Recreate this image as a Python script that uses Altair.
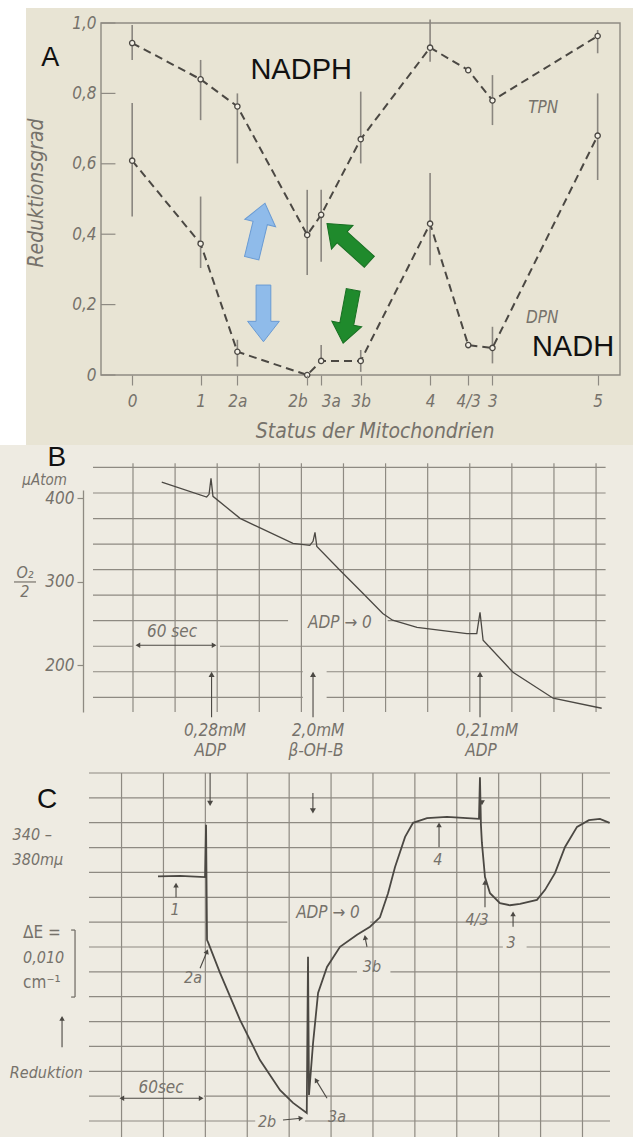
import altair as alt
import pandas as pd

W, H = 633, 1137
FONT = "Liberation Sans Narrow, DejaVu Sans Condensed, DejaVu Sans, sans-serif"
BFONT = "Liberation Sans, Arial, DejaVu Sans, sans-serif"
INK = "#4b4843"
GRID = "#8e8a82"
TXT = "#76726b"
PAPER_A = "#e8e4d4"
PAPER_BC = "#eeebe2"

# panel frames: (data domain, pixel range)
A_X = ([-6.7, 104.8], [101, 620])
A_Y = ([0.0, 1.0], [375, 23])
B_X = ([-28.5, 336.8], [93, 605.6])
B_Y = ([144.0, 410.0], [712, 490])
C_X = ([-23.3, 349.7], [89, 610])
C_Y = ([0.0, 51.94], [1121, 773])

# ---------------- Panel A data ----------------
status_labels = ["0", "1", "2a", "2b", "3a", "3b", "4", "4/3", "3", "5"]
status_pos = [0, 14.7, 22.6, 37.6, 40.6, 49.1, 64.0, 72.2, 77.4, 100]
tpn = [0.943, 0.84, 0.763, 0.398, 0.455, 0.67, 0.93, 0.866, 0.78, 0.963]
tpn_lo = [0.895, 0.724, 0.601, 0.284, 0.322, 0.601, 0.89, None, 0.71, 0.914]
tpn_hi = [0.994, 0.895, 0.80, 0.526, 0.526, 0.805, 1.01, None, 0.852, 0.98]
dpn = [0.609, 0.373, 0.066, 0.0, 0.04, 0.04, 0.43, 0.085, 0.077, 0.68]
dpn_lo = [0.45, 0.304, 0.024, None, 0.038, 0.009, 0.312, None, 0.033, 0.554]
dpn_hi = [0.773, 0.507, 0.10, None, 0.085, 0.071, 0.574, None, 0.137, 0.80]
y_ticks_A = [0, 0.2, 0.4, 0.6, 0.8, 1.0]

# annotation arrows in panel A (centre x, centre y, angle, length)
blue_x = [27.1, 28.2]
blue_y = [0.41, 0.175]
blue_ang = [13.6, 180]
blue_len = [56.6, 56.7]
green_x = [46.4, 46.4]
green_y = [0.376, 0.166]
green_ang = [312.2, 190.7]
green_len = [57.2, 54.2]

# ---------------- Panel B data (O2 trace) ----------------
b_t = [20.5, 52.5, 54.2, 55.6, 57, 76.3, 114, 126, 128.3, 129.7, 131, 147.5, 164, 178,
       185, 202.4, 238, 245, 247.3, 249.5, 270.8, 299.4, 334]
b_o2 = [419.5, 401.6, 404.8, 424, 402.4, 376, 346, 343.7, 348.5, 359.3, 342.5, 313.8, 286,
        262, 254, 245.5, 238, 238, 263.5, 230, 191.6, 160.5, 148.5]
b_ticks = [200, 300, 400]
b_vgrid = [0, 30, 60, 90, 120, 150, 180, 210, 240, 270, 300, 330]
b_rows_y = [437, 406.4, 375.8, 345.2, 314.6, 284, 253.4, 253.4, 222.8, 222.8,
            192.2, 192.2, 161.6, 161.6]
b_rows_x1 = [-28.5, -28.5, -28.5, -28.5, -28.5, -28.5, -28.5, 181.5, -28.5, 62,
             -28.5, 138, -28.5, 138]
b_rows_x2 = [336.8, 336.8, 336.8, 336.8, 336.8, 336.8, 110.5, 336.8, 0, 336.8,
             121, 336.8, 121, 336.8]
b_add_t = [56, 128.3, 247.3]

# ---------------- Panel C data (extinction trace, dE x 1000) ----------------
c_t = [26.1, 41.9, 59.8, 60.5, 61.2, 61.9, 70.5, 84.8, 99.1, 113.5, 122.8, 132.6, 133.5,
       134.2, 137.1, 140.7, 147.1, 156.4, 168.6, 177.9, 185, 190.8, 195.8, 203, 208.7,
       218.7, 233, 247.3, 255.9, 256.6, 257.3, 258, 260.2, 263.8, 270.9, 278.1, 285.3,
       297.4, 303.2, 310.3, 317.5, 326.1, 334.6, 342.5, 349.4]
c_v = [36.5, 36.6, 36.4, 44.2, 27.0, 26.7, 22.1, 15.1, 9.1, 4.6, 2.7, 1.2, 24.5,
       3.9, 11.6, 19.1, 23.0, 26.0, 27.8, 29.0, 30.4, 34.0, 37.9, 42.4, 44.5,
       45.2, 45.4, 45.2, 45.1, 51.3, 44.2, 41.5, 36.4, 34.0, 32.5, 32.2, 32.4,
       33.0, 34.5, 37.0, 40.9, 43.9, 44.9, 45.1, 44.5]
c_vgrid = [0, 30, 60, 90, 120, 150, 180, 210, 240, 270, 300, 330]
c_rows_y = [0, 0, 3.71, 3.71, 7.42, 11.13, 14.84, 18.55, 22.26, 22.26, 25.97, 25.97,
            29.68, 29.68, 33.39, 37.10, 40.81, 44.52, 48.23, 51.94]
c_rows_x1 = [-23.3, 131.4, -23.3, 59, -23.3, -23.3, -23.3, -23.3, -23.3, 192.5, -23.3, 290,
             -23.3, 178, -23.3, -23.3, -23.3, -23.3, -23.3, -23.3]
c_rows_x2 = [95.7, 349.7, -1, 349.7, 349.7, 349.7, 349.7, 349.7, 168.6, 349.7, 273, 349.7,
             118.7, 349.7, 349.7, 349.7, 349.7, 349.7, 349.7, 349.7]


def sc(P):
    return alt.Scale(domain=P[0], range=P[1], nice=False, zero=False)


def xe(field, P, axis=None):
    return alt.X(f"{field}:Q", scale=sc(P), axis=axis)


def ye(field, P, axis=None):
    return alt.Y(f"{field}:Q", scale=sc(P), axis=axis)


def texts(labels, xs, ys, PX, PY, size, color=TXT, style="italic", font=FONT,
          align="center", angle=0):
    df = pd.DataFrame({"label": labels, "x": xs, "y": ys})
    return alt.Chart(df).mark_text(
        fontSize=size, color=color, fontStyle=style, font=font, align=align,
        baseline="middle", angle=angle
    ).encode(x=xe("x", PX), y=ye("y", PY), text="label:N")


def segs(x1, x2, y1, y2, PX, PY, color=GRID, width=1.2):
    df = pd.DataFrame({"x": x1, "x2": x2, "y": y1, "y2": y2})
    return alt.Chart(df).mark_rule(color=color, strokeWidth=width).encode(
        x=xe("x", PX), x2="x2:Q", y=ye("y", PY), y2="y2:Q")


def heads(xs, ys, angs, PX, PY, color=INK, size=36):
    df = pd.DataFrame({"x": xs, "y": ys, "a": angs})
    return alt.Chart(df).mark_point(
        shape="triangle-up", filled=True, color=color, size=size, opacity=1
    ).encode(x=xe("x", PX), y=ye("y", PY), angle=alt.Angle("a:Q", scale=None))


def errbars(pos, lo, hi):
    rows = [(p, l, h) for p, l, h in zip(pos, lo, hi) if l is not None]
    return pd.DataFrame(rows, columns=["x", "lo", "hi"])


layers = []

# paper backgrounds
one = pd.DataFrame({"k": [0]})
layers.append(alt.Chart(one).mark_rect(color=PAPER_A).encode(
    x=alt.value(26), x2=alt.value(W), y=alt.value(8), y2=alt.value(445)))
layers.append(alt.Chart(one).mark_rect(color="#ffffff").encode(
    x=alt.value(0), x2=alt.value(26), y=alt.value(0), y2=alt.value(445)))
layers.append(alt.Chart(one).mark_rect(color="#ffffff").encode(
    x=alt.value(0), x2=alt.value(W), y=alt.value(0), y2=alt.value(8)))

# ================= Panel A =================
frame = pd.DataFrame({"x": [A_X[0][0]], "x2": [A_X[0][1]], "y": [A_Y[0][0]], "y2": [A_Y[0][1]]})
layers.append(alt.Chart(frame).mark_rect(fillOpacity=0, stroke=GRID, strokeWidth=1.4).encode(
    x=xe("x", A_X), x2="x2:Q", y=ye("y", A_Y), y2="y2:Q"))

dfA = pd.DataFrame({"pos": status_pos, "tpn": tpn, "dpn": dpn})
lab_expr = " : ".join(f"datum.value == {p} ? '{l}'" for p, l in zip(status_pos, status_labels)) + " : ''"
# "2b" and "3a" sit side by side: push them apart by aligning them right / left
x_label_align = {
    "condition": [
        {"test": f"datum.value == {status_pos[3]}", "value": "right"},
        {"test": f"datum.value == {status_pos[4]}", "value": "left"},
    ],
    "value": "center",
}
axA_x = alt.Axis(orient="bottom", offset=-(H - 375), values=status_pos, labelExpr=lab_expr,
                 domain=False, ticks=True, tickSize=10, tickColor=GRID, tickWidth=1.2,
                 labelPadding=8, labelFont=FONT, labelFontStyle="italic", labelFontSize=17,
                 labelColor=TXT, labelOverlap=False, labelAlign=x_label_align, grid=False,
                 title=None, zindex=2)
axA_y = alt.Axis(orient="left", offset=-101, values=y_ticks_A,
                 labelExpr="datum.value == 0 ? '0' : replace(format(datum.value, '.1f'), '.', ',')",
                 domain=False, ticks=False, labelPadding=5, labelFont=FONT,
                 labelFontStyle="italic", labelFontSize=17, labelColor=TXT, grid=False,
                 title=None, zindex=2)
# inward tick marks of the y axis
layers.append(segs([A_X[0][0]] * 6, [-3.6] * 6, y_ticks_A, y_ticks_A, A_X, A_Y, GRID, 1.2))

for lo, hi in [(tpn_lo, tpn_hi), (dpn_lo, dpn_hi)]:
    layers.append(alt.Chart(errbars(status_pos, lo, hi)).mark_rule(color="#8a867f", strokeWidth=1.6).encode(
        x=xe("x", A_X), y=ye("lo", A_Y), y2="hi:Q"))

layers.append(alt.Chart(dfA).mark_line(color=INK, strokeWidth=2, strokeDash=[8, 5]).encode(
    x=xe("pos", A_X, axA_x), y=ye("tpn", A_Y, axA_y)))
layers.append(alt.Chart(dfA).mark_line(color=INK, strokeWidth=2, strokeDash=[8, 5]).encode(
    x=xe("pos", A_X), y=ye("dpn", A_Y)))
for col in ["tpn", "dpn"]:
    layers.append(alt.Chart(dfA).mark_point(filled=True, fill="#f3f0e6", stroke=INK,
                                            strokeWidth=1.3, size=28, opacity=1).encode(
        x=xe("pos", A_X), y=ye(col, A_Y)))

ARROW = "M -0.26 1 L -0.26 -0.28 L -0.56 -0.28 L 0 -1 L 0.56 -0.28 L 0.26 -0.28 L 0.26 1 Z"
for xs, ys, an, ln, fill, stroke in [(blue_x, blue_y, blue_ang, blue_len, "#8fbbea", "#6a9bd3"),
                                     (green_x, green_y, green_ang, green_len, "#1f8a2c", "#186f22")]:
    dfa = pd.DataFrame({"x": xs, "y": ys, "a": an, "s": [l * l for l in ln]})
    layers.append(alt.Chart(dfa).mark_point(shape=ARROW, filled=True, fill=fill, stroke=stroke,
                                            strokeWidth=1, opacity=1).encode(
        x=xe("x", A_X), y=ye("y", A_Y), angle=alt.Angle("a:Q", scale=None),
        size=alt.Size("s:Q", scale=None)))

layers.append(texts(["A"], [-17.6], [0.90], A_X, A_Y, 27, "#111111", "normal", BFONT))
layers.append(texts(["NADPH", "NADH"], [36.3, 94.7], [0.866, 0.08], A_X, A_Y, 29, "#111111", "normal", BFONT))
layers.append(texts(["TPN", "DPN"], [88.3, 88.1], [0.758, 0.162], A_X, A_Y, 17))
layers.append(texts(["Reduktionsgrad"], [-20.4], [0.517], A_X, A_Y, 21, angle=270))
layers.append(texts(["Status der Mitochondrien"], [52.2], [-0.162], A_X, A_Y, 21))

# ================= Panel B =================
axB_y = alt.Axis(orient="left", offset=-83, values=b_ticks, domain=True, domainColor=GRID,
                 domainWidth=1.3, ticks=True, tickSize=6, tickColor=GRID, tickWidth=1.2,
                 labelPadding=3, labelFont=FONT, labelFontStyle="italic", labelFontSize=17,
                 labelColor=TXT, grid=False, title=None, format="d", zindex=2)
layers.append(segs(b_vgrid, b_vgrid, [442] * len(b_vgrid), [144] * len(b_vgrid), B_X, B_Y))
layers.append(segs(b_rows_x1, b_rows_x2, b_rows_y, b_rows_y, B_X, B_Y))
dfB = pd.DataFrame({"t": b_t, "o2": b_o2, "i": list(range(len(b_t)))})
layers.append(alt.Chart(dfB).mark_line(color=INK, strokeWidth=1.3).encode(
    x=xe("t", B_X), y=ye("o2", B_Y, axB_y), order="i:Q"))
# addition arrows (up)
layers.append(segs(b_add_t, b_add_t, [137.7] * 3, [186] * 3, B_X, B_Y, INK, 1.1))
layers.append(heads(b_add_t, [189] * 3, [0] * 3, B_X, B_Y))
# 60 sec arrow
layers.append(segs([2.9], [58.4], [224], [224], B_X, B_Y, INK, 1.1))
layers.append(heads([3.5, 57.8], [224, 224], [270, 90], B_X, B_Y, size=30))
layers.append(texts(["B"], [-54.2], [447.9], B_X, B_Y, 28, "#111111", "normal", BFONT))
layers.append(texts(["µAtom"], [-63], [421.6], B_X, B_Y, 15))
layers.append(texts(["O₂", "2"], [-77, -77], [310.2, 287.8], B_X, B_Y, 16))
layers.append(segs([-84.8], [-69.1], [299.8], [299.8], B_X, B_Y, TXT, 1.2))
layers.append(texts(["ADP → 0", "60 sec"], [147.5, 27.8], [250.3, 239.5], B_X, B_Y, 17))
layers.append(texts(["0,28mM", "2,0mM", "0,21mM"], [58.4, 131.9, 252.3], [120.8, 120.8, 120.8],
                    B_X, B_Y, 17))
layers.append(texts(["ADP", "β-OH-B", "ADP"], [55, 130.4, 248], [97.2, 97.2, 97.2],
                    B_X, B_Y, 17))

# ================= Panel C =================
layers.append(segs(c_vgrid, c_vgrid, [51.94] * len(c_vgrid), [-2.5] * len(c_vgrid), C_X, C_Y))
layers.append(segs(c_rows_x1, c_rows_x2, c_rows_y, c_rows_y, C_X, C_Y))
dfC = pd.DataFrame({"t": c_t, "v": c_v, "i": list(range(len(c_t)))})
layers.append(alt.Chart(dfC).mark_line(color=INK, strokeWidth=1.8).encode(
    x=xe("t", C_X), y=ye("v", C_Y), order="i:Q"))
# addition arrows from top (down)
layers.append(segs([63.4, 137], [63.4, 137], [51.94, 48.96], [47.6, 46.4], C_X, C_Y, INK, 1.1))
layers.append(heads([63.4, 137, 258], [47.4, 46.3, 47.5], [180, 180, 180], C_X, C_Y))
# pointer arrows for states
p_x1 = [39, 56.2, 115.6, 147.1, 175.7, 227.3, 260.2, 280.3, -42.6]
p_y1 = [33.4, 22.8, 0.15, 3.4, 26.0, 40.9, 31.9, 29.0, 11.0]
p_x2 = [39, 61.2, 128.5, 139.2, 174.4, 227.3, 260.2, 280.3, -42.6]
p_y2 = [35.2, 25.3, 0.42, 6.1, 27.4, 44.2, 35.6, 30.9, 15.3]
p_ang = [0, 22, 84, 330, 350, 0, 0, 0, 0]
layers.append(segs(p_x1, p_x2, p_y1, p_y2, C_X, C_Y, INK, 1.1))
layers.append(heads(p_x2, p_y2, p_ang, C_X, C_Y, size=30))
# 60 sec arrow
layers.append(segs([-0.4], [57.6], [3.4], [3.4], C_X, C_Y, INK, 1.1))
layers.append(heads([0.2, 57.0], [3.4, 3.4], [270, 90], C_X, C_Y, size=30))
# bracket "]" for the dE scale
layers.append(segs([-33.3, -36.1, -36.1], [-33.3, -33.3, -33.3], [18.5, 28.5, 18.5], [28.5, 28.5, 18.5],
                   C_X, C_Y, TXT, 1.3))
layers.append(texts(["C"], [-53.3], [47.9], C_X, C_Y, 28, "#111111", "normal", BFONT))
layers.append(texts(["340 –", "380mµ", "0,010", "Reduktion"], [-78, -78, -70.5, -80],
                    [42.7, 38.9, 24.3, 7.2], C_X, C_Y, 16, align="left"))
layers.append(texts(["ΔE =", "cm⁻¹"], [-70.5, -70.5], [28.1, 20.6], C_X, C_Y, 17,
                    style="normal", align="left"))
layers.append(texts(["60sec", "ADP → 0"], [28.3, 147.8], [4.9, 31.0], C_X, C_Y, 17))
layers.append(texts(["1", "2a", "2b", "3a", "3b", "4", "4/3", "3"],
                    [38.3, 51.2, 104.2, 154.3, 179.3, 226.5, 254.5, 278.8],
                    [31.5, 21.3, -0.15, 0.6, 23.0, 39.0, 30.0, 26.6], C_X, C_Y, 16))

chart = alt.layer(*layers).properties(
    width=W, height=H, background=PAPER_BC, padding=0,
    autosize=alt.AutoSizeParams(type="none")
).resolve_scale(x="independent", y="independent").configure_view(stroke=None)

chart.save("out.html", embed_options={"renderer": "svg", "actions": False})
